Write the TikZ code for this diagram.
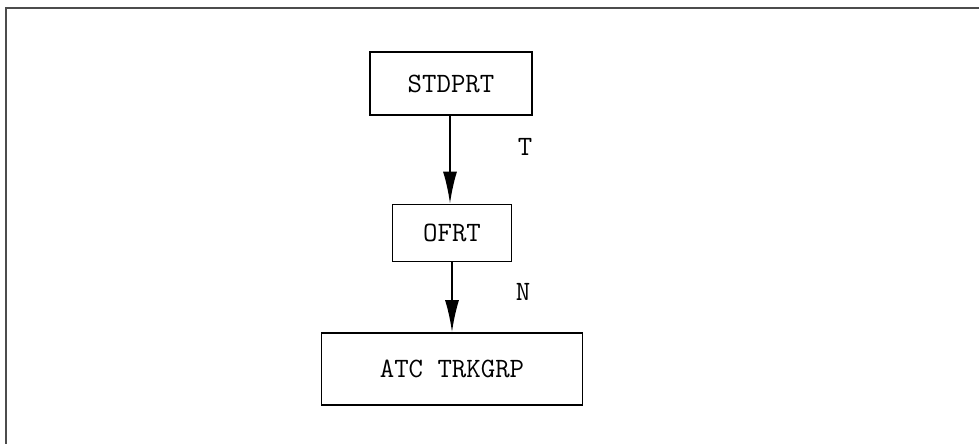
\documentclass[tikz,border=0pt]{standalone}
\usetikzlibrary{arrows.meta}
\begin{document}
\begin{tikzpicture}[x=1pt,y=-1pt,
  box/.style={draw=black,line width=1.6pt,inner sep=0pt,font=\ttfamily\fontsize{28}{32}\selectfont},
  lbl/.style={font=\ttfamily\fontsize{28}{32}\selectfont},
  conn/.style={line width=2pt,-{Latex[length=32pt,width=14pt]}}]
\useasboundingbox (0,0) rectangle (979,444);
\draw[line width=2pt,color=black!70] (6,444) -- (6,8) -- (979,8);
\node[box,minimum width=162pt,minimum height=63pt] (s) at (451,83.5) {STDPRT};
\node[box,minimum width=119pt,minimum height=57pt] (o) at (452,233) {OFRT};
\node[box,minimum width=261pt,minimum height=72pt] (a) at (452,369) {ATC TRKGRP};
\draw[conn] (s.south -| 450,0) -- (o.north -| 450,0);
\draw[conn] (o) -- (a);
\node[lbl] (t) at (525,147) {T};
\node[lbl] (n) at (523,292) {N};
\end{tikzpicture}
\end{document}
